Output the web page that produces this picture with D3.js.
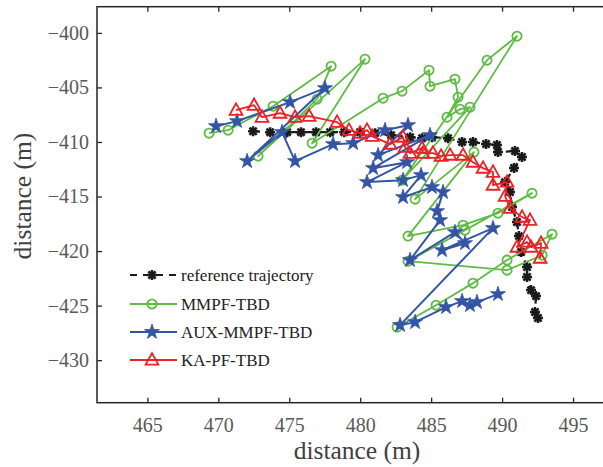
<!DOCTYPE html>
<html>
<head>
<meta charset="utf-8">
<script src="https://cdn.jsdelivr.net/npm/d3@7"></script>
<style>
  body { margin: 0; background: #fff; }
  svg { display: block; }
</style>
</head>
<body>
<svg id="chart" width="603" height="467"></svg>
<script>
// Reference trajectory (m)
const refX = [472.45,473.65,474.85,475.83,476.89,477.88,478.87,479.99,481.05,482.18,483.52,484.36,485.07,486.19,487.18,487.95,488.87,489.64,489.71,490.91,491.40,490.84,490.21,490.56,490.70,491.05,491.19,491.34,491.76,491.76,492.04,492.39,492.32,492.53];
const refY = [-409.01,-409.10,-409.10,-409.10,-409.10,-409.10,-409.10,-409.10,-409.19,-409.38,-409.56,-409.65,-409.56,-409.65,-410.01,-410.01,-410.19,-410.28,-410.92,-410.83,-411.38,-412.39,-413.68,-414.59,-415.97,-417.34,-418.63,-420.09,-421.47,-422.38,-423.58,-424.13,-425.59,-426.14];

// MMPF-TBD estimates
const mmpfX = [469.35,470.69,473.86,477.95,476.96,472.80,480.34,476.61,481.61,482.95,484.85,484.92,486.68,486.90,486.12,487.04,487.74,482.95,488.94,491.05,483.87,488.02,483.37,487.25,489.71,492.11,487.39,483.37,490.35,492.82,493.52,490.35,487.95,485.35,482.60];
const mmpfY = [-409.19,-408.92,-406.72,-403.05,-406.08,-411.30,-402.41,-410.11,-405.99,-405.34,-403.42,-404.89,-404.24,-405.89,-407.73,-406.99,-406.81,-413.50,-402.50,-400.30,-415.24,-410.93,-418.63,-417.63,-416.53,-414.69,-418.08,-420.93,-421.75,-420.38,-418.45,-420.83,-422.94,-424.96,-426.97];

// AUX-MMPF-TBD estimates
const auxX = [469.84,471.32,475.06,477.52,472.03,474.49,475.41,478.09,479.50,481.75,483.37,481.26,484.92,480.91,483.30,480.48,483.02,484.29,483.02,485.06,485.84,485.42,485.63,483.51,486.68,487.39,485.77,489.36,482.81,483.87,486.05,487.18,487.74,488.23,489.71];
const auxY = [-408.55,-408.09,-406.35,-405.07,-411.76,-409.10,-411.76,-410.20,-410.11,-408.92,-408.46,-411.21,-409.38,-412.40,-411.85,-413.68,-413.50,-413.04,-415.06,-414.14,-414.60,-416.34,-417.17,-420.83,-418.27,-419.28,-419.92,-417.90,-426.79,-426.52,-425.14,-424.59,-424.96,-424.68,-423.95];

// KA-PF-TBD estimates
const kaX = [471.25,472.52,473.08,474.35,475.41,476.40,478.37,479.21,479.99,480.48,480.84,482.10,483.02,483.16,483.51,484.36,484.43,485.13,485.70,486.33,487.25,487.95,488.66,489.36,489.36,490.35,490.21,490.56,491.41,491.97,491.05,491.76,492.04,492.75,492.68];
const kaY = [-407.09,-406.63,-407.73,-407.36,-407.73,-407.64,-408.19,-408.92,-409.19,-408.92,-409.47,-410.20,-409.56,-410.48,-411.03,-410.57,-411.03,-411.03,-411.30,-411.21,-411.21,-411.85,-412.40,-412.77,-413.96,-413.68,-414.97,-416.07,-416.89,-417.17,-419.64,-419.18,-419.64,-419.28,-420.65];

const xTicks = [465, 470, 475, 480, 485, 490, 495];
const yTicks = [-400, -405, -410, -415, -420, -425, -430];
const seriesNames = ["reference trajectory", "MMPF-TBD", "AUX-MMPF-TBD", "KA-PF-TBD"];

const svg = d3.select("#chart");
const plotLeft = 97, plotRight = 608.5, plotTop = 6.7, plotBottom = 402.7;
const x = d3.scaleLinear().domain([461.45, 497.5]).range([plotLeft, plotRight]);
const y = d3.scaleLinear().domain([-433.9, -397.6]).range([plotBottom, plotTop]);

const serif = "'Liberation Serif', 'Times New Roman', serif";
const frameColor = "#262626";

// Axes with inward ticks
const gx = svg.append("g").attr("transform", `translate(0,${plotBottom})`)
  .call(d3.axisBottom(x).tickValues(xTicks).tickFormat(d3.format("d")).tickSizeInner(-5).tickSizeOuter(0).tickPadding(15));
const gxTop = svg.append("g").attr("transform", `translate(0,${plotTop})`)
  .call(d3.axisTop(x).tickValues(xTicks).tickFormat("").tickSizeInner(-5).tickSizeOuter(0));
const gy = svg.append("g").attr("transform", `translate(${plotLeft},0)`)
  .call(d3.axisLeft(y).tickValues(yTicks).tickFormat(d => "\u2212" + Math.abs(d)).tickSizeInner(-5).tickSizeOuter(0).tickPadding(8));

[gx, gxTop, gy].forEach(g => {
  g.select(".domain").remove();
  g.selectAll(".tick line").attr("stroke", frameColor).attr("stroke-width", 1.3);
  g.selectAll(".tick text").attr("font-family", serif).attr("font-size", 20).attr("fill", "#595959");
});

svg.append("rect")
  .attr("x", plotLeft).attr("y", plotTop)
  .attr("width", plotRight - plotLeft).attr("height", plotBottom - plotTop)
  .attr("fill", "none").attr("stroke", frameColor).attr("stroke-width", 1.5);

// Axis titles
svg.append("text")
  .attr("x", 357).attr("y", 459)
  .attr("text-anchor", "middle")
  .attr("font-family", serif).attr("font-size", 25.5).attr("fill", "#404040")
  .text("distance (m)");
svg.append("text")
  .attr("transform", "translate(31,196) rotate(-90)")
  .attr("text-anchor", "middle")
  .attr("font-family", serif).attr("font-size", 25.5).attr("fill", "#404040")
  .text("distance (m)");

// Marker shapes
const asterisk = "M-5,0L5,0M0,-5L0,5M-3.6,-3.6L3.6,3.6M-3.6,3.6L3.6,-3.6";
const triangle = "M0,-6.8L6.4,4.6L-6.4,4.6Z";
const star = d3.symbol().type(d3.symbolStar).size(70)();

const series = [
  { name: seriesNames[0], xs: refX, ys: refY, color: "#1a1a1a", width: 2.2, dash: "7,6",
    marker: g => g.append("path").attr("d", asterisk).attr("fill", "none").attr("stroke", "#1a1a1a").attr("stroke-width", 2.5) },
  { name: seriesNames[1], xs: mmpfX, ys: mmpfY, color: "#5fbb44", width: 1.8, dash: null,
    marker: g => g.append("circle").attr("r", 4.6).attr("fill", "none").attr("stroke", "#5fbb44").attr("stroke-width", 1.8) },
  { name: seriesNames[2], xs: auxX, ys: auxY, color: "#3454a6", width: 2, dash: null,
    marker: g => g.append("path").attr("d", star).attr("fill", "#3454a6").attr("stroke", "#3454a6").attr("stroke-width", 0.8) },
  { name: seriesNames[3], xs: kaX, ys: kaY, color: "#ec2127", width: 1.8, dash: null,
    marker: g => g.append("path").attr("d", triangle).attr("fill", "none").attr("stroke", "#ec2127").attr("stroke-width", 1.8) }
];

const plot = svg.append("g");
const line = d3.line().x(d => x(d[0])).y(d => y(d[1]));

series.forEach(s => {
  const pts = s.xs.map((v, i) => [v, s.ys[i]]);
  const g = plot.append("g");
  g.append("path")
    .attr("d", line(pts))
    .attr("fill", "none")
    .attr("stroke", s.color)
    .attr("stroke-width", s.width)
    .attr("stroke-linejoin", "round")
    .attr("stroke-dasharray", s.dash);
  pts.forEach(p => {
    const m = g.append("g").attr("transform", `translate(${x(p[0])},${y(p[1])})`);
    s.marker(m);
  });
});

// Legend
const legend = svg.append("g");
const rowsY = [275, 304, 332, 360];
series.forEach((s, i) => {
  const ly = rowsY[i];
  legend.append("line")
    .attr("x1", 130).attr("x2", 177).attr("y1", ly).attr("y2", ly)
    .attr("stroke", s.color).attr("stroke-width", s.width)
    .attr("stroke-dasharray", s.dash);
  const m = legend.append("g").attr("transform", `translate(152,${ly})`);
  s.marker(m);
  legend.append("text")
    .attr("x", 181).attr("y", ly).attr("dy", "0.33em")
    .attr("font-family", serif).attr("font-size", 17).attr("fill", "#222")
    .text(s.name);
});
</script>
</body>
</html>
